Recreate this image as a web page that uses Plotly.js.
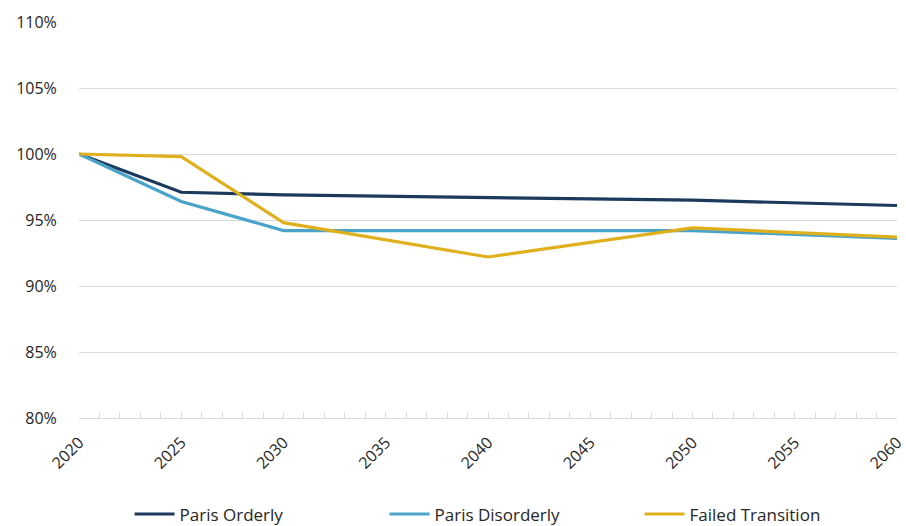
<!DOCTYPE html>
<html>
<head>
<meta charset="utf-8">
<script src="https://cdn.plot.ly/plotly-3.0.1.min.js"></script>
<style>html,body{margin:0;padding:0;background:#fff;}#chart{width:906px;height:526px;}</style>
</head>
<body>
<div id="chart"></div>
<script>
const years = [2020, 2025, 2030, 2040, 2050, 2060];
const parisOrderly = [100, 97.1, 96.9, 96.7, 96.5, 96.1];
const parisDisorderly = [100, 96.4, 94.2, 94.2, 94.2, 93.6];
const failedTransition = [100, 99.8, 94.8, 92.2, 94.4, 93.7];
const seriesNames = ["Paris Orderly", "Paris Disorderly", "Failed Transition"];
const xTicks = [2020, 2025, 2030, 2035, 2040, 2045, 2050, 2055, 2060];
const yTicks = [80, 85, 90, 95, 100, 105, 110];

const colors = ["#1b3a5c", "#4aa3c8", "#e0b01c"];
const series = [parisOrderly, parisDisorderly, failedTransition];
const data = series.map((s, i) => ({
  x: years, y: s, name: seriesNames[i], type: "scatter", mode: "lines",
  line: {color: colors[i], width: 3.2}
}));

const layout = {
  width: 906, height: 526,
  margin: {l: 79, r: 9, t: 22, b: 108},
  paper_bgcolor: "#fff", plot_bgcolor: "#fff",
  font: {family: "'Open Sans', sans-serif", color: "#262626", size: 16},
  showlegend: true,
  legend: {orientation: "h", xref: "container", yref: "container",
           x: 0.143, xanchor: "left", y: 0.022, yanchor: "middle",
           font: {size: 17, color: "#262626"}, entrywidth: 200, entrywidthmode: "pixels",
           itemwidth: 40},
  xaxis: {
    range: [2020, 2060], tickvals: xTicks, ticktext: xTicks.map(String),
    tickangle: -45, showgrid: false, zeroline: false, automargin: false,
    showline: true, linecolor: "#d9d9d9", linewidth: 1,
    ticks: "inside", ticklen: 6, tickcolor: "#d9d9d9",
    minor: {dtick: 1, ticks: "inside", ticklen: 6, tickcolor: "#d9d9d9", showgrid: false},
    ticklabeloverflow: "allow", ticklabelstandoff: 8,
    tickfont: {size: 16, color: "#262626"}
  },
  yaxis: {
    range: [80, 110], tickvals: yTicks, ticktext: yTicks.map(v => v + "%"),
    showgrid: true, gridcolor: "#d9d9d9", gridwidth: 1, zeroline: false, automargin: false,
    showline: false, ticks: "outside", ticklen: 18, tickcolor: "rgba(0,0,0,0)",
    tickfont: {size: 16, color: "#262626"}
  }
};
Plotly.newPlot("chart", data, layout, {displayModeBar: false});
</script>
</body>
</html>
